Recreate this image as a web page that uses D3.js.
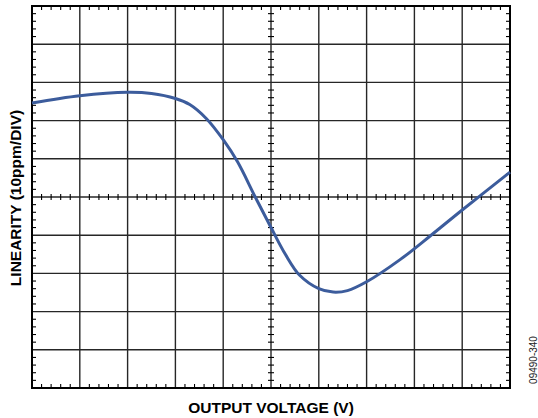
<!DOCTYPE html>
<html>
<head>
<meta charset="utf-8">
<script src="https://cdn.jsdelivr.net/npm/d3@7"></script>
<style>
  body { margin: 0; background: #fff; }
  svg { display: block; }
  text { font-family: "Liberation Sans", Arial, sans-serif; }
</style>
</head>
<body>
<div id="chart"></div>
<script>

// curve (divisions, 0..10 on both axes)
const outputDiv = [0, 1.0, 2.0, 2.5, 3.0, 3.3, 3.65, 4.0, 4.3, 4.67, 5.0, 5.3, 5.6, 6.0, 6.3, 6.6, 7.0, 7.7, 8.33, 9.0, 10];
const linearityDiv = [7.46, 7.65, 7.74, 7.71, 7.58, 7.42, 7.05, 6.5, 5.92, 5.0, 4.2, 3.5, 2.95, 2.6, 2.51, 2.55, 2.78, 3.36, 3.98, 4.66, 5.65];

const xLabel = "OUTPUT VOLTAGE (V)";
const yLabel = "LINEARITY (10ppm/DIV)";
const figId = "09490-340";

const width = 538, height = 418;
const margin = {left: 32, right: 28, top: 6, bottom: 30};

let svg = d3.select("#chart")
            .append("svg")
                .attr("width", width)
                .attr("height", height);

let x = d3.scaleLinear().domain([0, 10]).range([margin.left, width - margin.right]);
let y = d3.scaleLinear().domain([0, 10]).range([height - margin.bottom, margin.top]);

let majors = d3.range(1, 10);
let minors = d3.range(0, 50).map(d => d / 5).filter(d => d % 1 !== 0);

// grid
let grid = svg.append("g").attr("stroke", "#262626").attr("stroke-width", 1.4);
grid.selectAll(".vgrid").data(majors).enter()
    .append("line")
        .attr("x1", d => x(d)).attr("x2", d => x(d))
        .attr("y1", y(0)).attr("y2", y(10));
grid.selectAll(".hgrid").data(majors).enter()
    .append("line")
        .attr("y1", d => y(d)).attr("y2", d => y(d))
        .attr("x1", x(0)).attr("x2", x(10));

// minor ticks on edges (pointing inward) and center lines (both sides)
let ticks = svg.append("g").attr("stroke", "#000").attr("stroke-width", 1.1);
const tl = 4, cl = 3;

ticks.selectAll(".tTop").data(minors).enter().append("line")
    .attr("x1", d => x(d)).attr("x2", d => x(d))
    .attr("y1", y(10)).attr("y2", y(10) + tl);
ticks.selectAll(".tBot").data(minors).enter().append("line")
    .attr("x1", d => x(d)).attr("x2", d => x(d))
    .attr("y1", y(0)).attr("y2", y(0) - tl);
ticks.selectAll(".tLeft").data(minors).enter().append("line")
    .attr("y1", d => y(d)).attr("y2", d => y(d))
    .attr("x1", x(0)).attr("x2", x(0) + tl);
ticks.selectAll(".tRight").data(minors).enter().append("line")
    .attr("y1", d => y(d)).attr("y2", d => y(d))
    .attr("x1", x(10)).attr("x2", x(10) - tl);
ticks.selectAll(".tCx").data(minors).enter().append("line")
    .attr("x1", d => x(d)).attr("x2", d => x(d))
    .attr("y1", y(5) - cl).attr("y2", y(5) + cl);
ticks.selectAll(".tCy").data(minors).enter().append("line")
    .attr("y1", d => y(d)).attr("y2", d => y(d))
    .attr("x1", x(5) - cl).attr("x2", x(5) + cl);

// border
svg.append("rect")
    .attr("x", x(0)).attr("y", y(10))
    .attr("width", x(10) - x(0)).attr("height", y(0) - y(10))
    .attr("fill", "none")
    .attr("stroke", "#000")
    .attr("stroke-width", 2);

// curve
let pts = outputDiv.map((d, i) => [d, linearityDiv[i]]);
let line = d3.line()
    .x(d => x(d[0]))
    .y(d => y(d[1]))
    .curve(d3.curveCatmullRom.alpha(0.5));

svg.append("path")
    .datum(pts)
    .attr("d", line)
    .attr("fill", "none")
    .attr("stroke", "#3c5c9c")
    .attr("stroke-width", 3)
    .attr("stroke-linejoin", "round");

// labels
svg.append("text")
    .attr("x", x(5)).attr("y", 413)
    .attr("text-anchor", "middle")
    .attr("font-size", 15.5)
    .attr("font-weight", "bold")
    .text(xLabel);

svg.append("text")
    .attr("transform", "translate(21," + (y(5) + 1) + ") rotate(-90)")
    .attr("text-anchor", "middle")
    .attr("font-size", 15.5)
    .attr("font-weight", "bold")
    .text(yLabel);

svg.append("text")
    .attr("transform", "translate(537,360) rotate(-90)")
    .attr("text-anchor", "middle")
    .attr("font-size", 10)
    .attr("fill", "#222")
    .text(figId);

</script>
</body>
</html>
